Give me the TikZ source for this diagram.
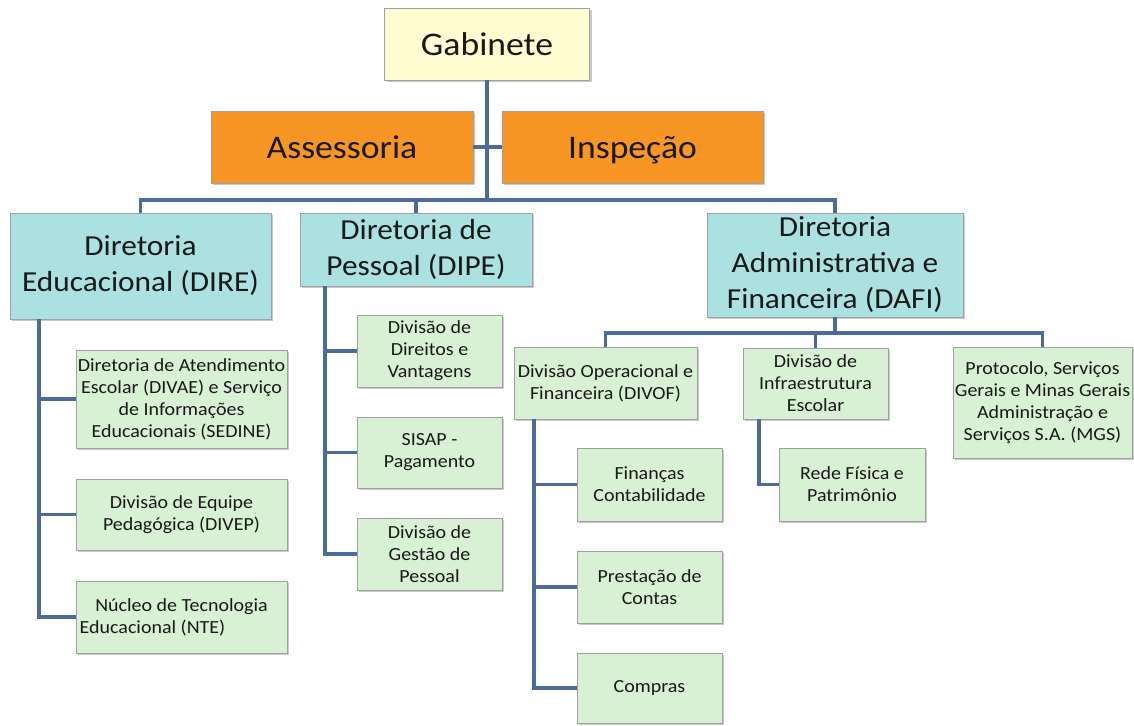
\documentclass[tikz,border=0pt]{standalone}
\usepackage{fontspec}
\setmainfont{Carlito}[FakeStretch=1.08]
\usetikzlibrary{shadows}
\definecolor{gabfill}{RGB}{254,252,208}
\definecolor{orfill}{RGB}{247,150,36}
\definecolor{tealfill}{RGB}{172,225,225}
\definecolor{grfill}{RGB}{216,240,211}
\definecolor{boxline}{RGB}{160,160,160}
\definecolor{connc}{RGB}{74,107,155}
\tikzset{
  box/.style={draw=boxline, line width=0.8pt, inner sep=0pt, align=center, text=black!90,
    drop shadow={shadow xshift=2pt, shadow yshift=-2pt, opacity=0.35, fill=black!60}},
  topbox/.style={box, fill=gabfill, font=\fontsize{33}{40}\selectfont, text height=30pt, text depth=7pt},
  orbox/.style={box, fill=orfill, font=\fontsize{33}{40}\selectfont, text height=30pt, text depth=7pt},
  dirbox/.style={box, fill=tealfill, font=\fontsize{29}{36}\selectfont},
  divbox/.style={box, fill=grfill, font=\fontsize{18.5}{22}\selectfont},
  conn/.style={draw=connc, line width=3.5pt},
}
\begin{document}
\begin{tikzpicture}[x=1pt,y=-1pt]
\useasboundingbox (0,0) rectangle (1134,725);
% top
\node[topbox, minimum width=205, minimum height=72] (gab) at (487,44) {Gabinete};
\node[orbox, minimum width=262, minimum height=72] (ass) at (342,147) {Assessoria};
\node[orbox, minimum width=261, minimum height=72] (insp) at (632.5,147) {Inspeção};
% diretorias
\node[dirbox, minimum width=261, minimum height=106] (dire) at (140.5,266) {Diretoria\\Educacional (DIRE)};
\node[dirbox, minimum width=232, minimum height=73] (dipe) at (416,249.5) {Diretoria de\\Pessoal (DIPE)};
\node[dirbox, minimum width=256, minimum height=104] (dafi) at (835,265) {Diretoria\\Administrativa e\\Financeira (DAFI)};
% DIRE children
\node[divbox, minimum width=211, minimum height=98] (c1) at (181.5,399) {Diretoria de Atendimento\\Escolar (DIVAE) e Serviço\\de Informações\\Educacionais (SEDINE)};
\node[divbox, minimum width=211, minimum height=71] (c2) at (181.5,514.5) {Divisão de Equipe\\Pedagógica (DIVEP)};
\node[divbox, minimum width=211, minimum height=72] (c3) at (181.5,617) {Núcleo de Tecnologia\\Educacional (NTE)\hspace*{58pt}};
% DIPE children
\node[divbox, minimum width=145, minimum height=72] (d1) at (429.5,351) {Divisão de\\Direitos e\\Vantagens};
\node[divbox, minimum width=145, minimum height=71] (d2) at (429.5,452.5) {SISAP -\\Pagamento};
\node[divbox, minimum width=145, minimum height=72] (d3) at (429.5,554) {Divisão de\\Gestão de\\Pessoal};
% DAFI children
\node[divbox, minimum width=183, minimum height=72] (divof) at (605.5,383) {Divisão Operacional e\\Financeira (DIVOF)};
\node[divbox, minimum width=145, minimum height=71] (infra) at (815.5,383.5) {Divisão de\\Infraestrutura\\Escolar};
\node[divbox, minimum width=179, minimum height=111] (prot) at (1042.5,402.5) {Protocolo, Serviços\\Gerais e Minas Gerais\\Administração e\\Serviços S.A. (MGS)};
% DIVOF children
\node[divbox, minimum width=145, minimum height=73] (f1) at (649.5,484.5) {Finanças\\Contabilidade};
\node[divbox, minimum width=145, minimum height=72] (f2) at (649.5,587) {Prestação de\\Contas};
\node[divbox, minimum width=145, minimum height=70] (f3) at (649.5,688) {Compras};
% Infra children
\node[divbox, minimum width=146, minimum height=73] (r1) at (852,484.5) {Rede Física e\\Patrimônio};
% coordinates
\coordinate (bus) at (487,200);
\coordinate (ev) at (39,0);
\coordinate (pv) at (325,0);
\coordinate (dbus) at (835,333);
\coordinate (fv) at (534,0);
\coordinate (rv) at (759,0);
% connectors
\draw[conn] (gab.south) -- (bus);
\draw[conn] (ass.east) -- (insp.west);
\draw[conn] (dire.north) |- (bus) -| (dafi.north);
\draw[conn] (dipe.north) -- (dipe.north |- bus);
\draw[conn] (ev |- dire.south) |- (c3.west);
\draw[conn] (ev |- c1.west) -- (c1.west);
\draw[conn] (ev |- c2.west) -- (c2.west);
\draw[conn] (pv |- dipe.south) |- (d3.west);
\draw[conn] (pv |- d1.west) -- (d1.west);
\draw[conn] (pv |- d2.west) -- (d2.west);
\draw[conn] (dafi.south) -- (dbus);
\draw[conn] (divof.north) |- (dbus) -| (prot.north);
\draw[conn] (infra.north) -- (infra.north |- dbus);
\draw[conn] (fv |- divof.south) |- (f3.west);
\draw[conn] (fv |- f1.west) -- (f1.west);
\draw[conn] (fv |- f2.west) -- (f2.west);
\draw[conn] (rv |- infra.south) |- (r1.west);
\end{tikzpicture}
\end{document}
